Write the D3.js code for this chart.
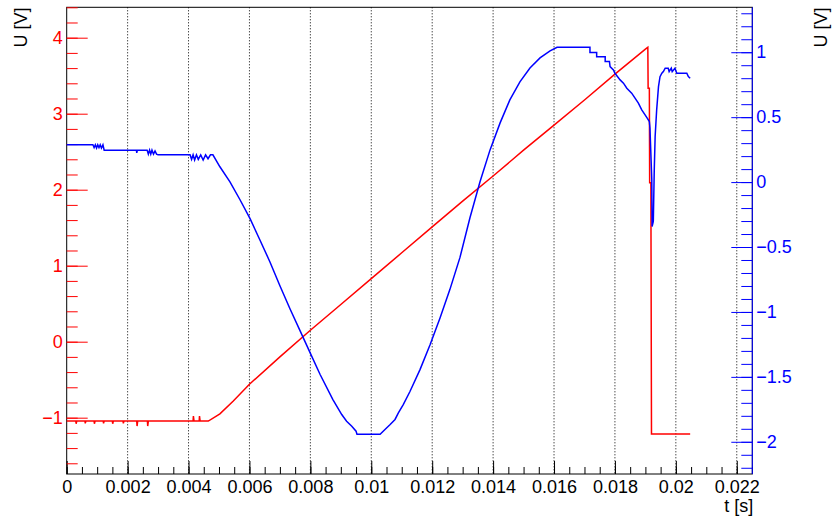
<!DOCTYPE html>
<html><head><meta charset="utf-8">
<script src="https://cdn.jsdelivr.net/npm/d3@7"></script>
<style>body{margin:0;background:#fff;} svg{display:block;font-family:"Liberation Sans",Arial,Helvetica,sans-serif;}</style>
</head><body><svg id="c" width="836" height="519"></svg>
<script>
// ---- data ----
const xTicks = [0,0.002,0.004,0.006,0.008,0.01,0.012,0.014,0.016,0.018,0.02,0.022];
const xTickLabels = ["0","0.002","0.004","0.006","0.008","0.01","0.012","0.014","0.016","0.018","0.02","0.022"];
const leftTicks = [-1,0,1,2,3,4];
const leftTickLabels = ["\u22121","0","1","2","3","4"];
const rightTicks = [-2,-1.5,-1,-0.5,0,0.5,1];
const rightTickLabels = ["\u22122","\u22121.5","\u22121","\u22120.5","0","0.5","1"];

// red trace (left axis, U [V])
const redT = [0,0.00030,0.00031,0.00033,0.00060,0.00061,0.00063,0.00090,0.00091,0.00093,0.00120,0.00121,0.00123,
  0.00150,0.00151,0.00153,0.00185,0.00186,0.00188,0.00230,0.00231,0.00233,0.00265,0.00266,0.00268,
  0.00415,0.00416,0.00418,0.00435,0.00436,0.00438,0.00465,
  0.00503,0.00547,0.0060,0.0070,0.0080,0.0090,0.0100,0.0110,0.0120,0.0130,0.0140,
  0.0150,0.0160,0.0170,0.0180,0.0190,0.01908,0.01909,0.01913,0.01914,0.01918,0.01920,0.02047];
const redV = [-1.045,-1.045,-1.08,-1.045,-1.045,-1.075,-1.045,-1.045,-1.08,-1.045,-1.045,-1.075,
  -1.045,-1.045,-1.08,-1.045,-1.045,-1.075,-1.045,-1.045,-1.11,-1.045,-1.045,-1.11,-1.045,
  -1.045,-0.98,-1.045,-1.045,-0.98,-1.045,-1.045,
  -0.95,-0.78,-0.56,-0.20,0.15,0.49,0.83,1.17,1.51,1.85,2.18,
  2.52,2.85,3.18,3.52,3.85,3.874,3.334,3.334,2.09,2.09,-1.214,-1.214];

// blue trace (right axis, U [V])
const blueT = [0,0.00086,0.00090,0.00094,0.00098,0.00102,0.00106,0.00110,0.00114,0.00119,0.00123,0.00229,0.00230,0.00232,
  0.00264,0.00268,0.00272,0.00276,0.00280,0.00285,0.00290,0.00295,0.00300,
  0.00405,0.00410,0.00415,0.00420,0.00426,0.00432,0.00440,0.00448,0.00456,0.00464,0.00472,0.00480,
  0.00503,0.00536,0.00569,0.00602,0.00634,0.00667,0.00700,0.00733,0.00766,0.00799,0.00832,0.00874,
  0.00903,0.00919,0.00936,0.00950,0.00953,0.01029,0.01045,0.01062,0.01078,0.01089,0.01105,0.01127,
  0.01160,0.01193,0.01226,0.01258,0.01291,0.01324,0.01357,0.01390,0.01423,0.01455,0.01488,0.01521,
  0.01554,0.01587,0.01610,0.01718,0.01718,0.01740,0.01740,0.01768,0.01768,0.01782,0.01784,0.01795,
  0.01800,0.01817,0.01828,0.01839,0.01855,0.01866,0.01877,0.01888,0.01899,0.01906,0.01913,0.01915,
  0.01921,0.01922,0.01926,0.01929,0.01932,0.01937,0.01943,0.01948,0.01954,0.01959,0.01965,
  0.01975,0.01978,0.01985,0.01988,0.01997,0.02003,0.02036,0.02041,0.02047];
const blueV = [0.287,0.287,0.265,0.287,0.262,0.287,0.265,0.287,0.262,0.287,0.246,0.246,0.225,0.246,
  0.246,0.215,0.246,0.215,0.246,0.215,0.240,0.215,0.210,
  0.210,0.175,0.210,0.170,0.210,0.175,0.210,0.170,0.210,0.180,0.210,0.210,
  0.118,0.002,-0.136,-0.282,-0.444,-0.613,-0.798,-0.975,-1.144,-1.313,-1.482,-1.675,
  -1.790,-1.842,-1.880,-1.918,-1.942,-1.942,-1.905,-1.867,-1.828,-1.777,-1.713,-1.613,
  -1.444,-1.252,-1.044,-0.828,-0.582,-0.275,0.002,0.248,0.456,0.633,0.772,0.879,
  0.956,1.010,1.038,1.038,0.997,0.997,0.966,0.966,0.928,0.928,0.889,0.864,
  0.838,0.787,0.762,0.723,0.685,0.646,0.608,0.556,0.518,0.492,0.466,0.415,
  0.018,-0.342,-0.303,0.082,0.351,0.556,0.735,0.812,0.838,0.851,0.877,
  0.877,0.850,0.877,0.850,0.877,0.838,0.838,0.812,0.800];

// ---- layout ----
const W = 836, H = 519;
const X0 = 66.7, X1 = 752.3, Y0 = 7.3, Y1 = 474;
const svg = d3.select("#c");
svg.append("rect").attr("width",W).attr("height",H).attr("fill","#fff");

const x = d3.scaleLinear().domain([0,0.02251]).range([X0,X1]);
const yL = d3.scaleLinear().domain([-1.741,4.40]).range([Y1,Y0]);
const yR = d3.scaleLinear().domain([-2.248,1.346]).range([Y1,Y0]);

// grid
svg.append("g").selectAll("line").data(xTicks.filter(d=>d>0)).join("line")
  .attr("x1",d=>x(d)).attr("x2",d=>x(d)).attr("y1",Y0).attr("y2",Y1)
  .attr("stroke","#000").attr("stroke-width",1).attr("stroke-dasharray","1,2");

// frame
svg.append("rect").attr("x",X0).attr("y",Y0).attr("width",X1-X0).attr("height",Y1-Y0)
  .attr("fill","none").attr("stroke","#000").attr("stroke-width",1);

const FS = 18;
function style(g, color){
  g.select(".domain").remove();
  g.selectAll("line").attr("stroke",color).attr("stroke-width",1);
  g.selectAll("text").attr("fill",color).attr("font-size",FS).attr("font-family","Liberation Sans, Arial, sans-serif");
}
// x axis
const xMinor = d3.range(0,0.02251,0.0005);
const gxm = svg.append("g").attr("transform",`translate(0,${Y1})`)
  .call(d3.axisBottom(x).tickValues(xMinor).tickSize(-7).tickFormat(""));
style(gxm,"#000");
const gx = svg.append("g").attr("transform",`translate(0,${Y1})`)
  .call(d3.axisBottom(x).tickValues(xTicks).tickSize(-13).tickPadding(6).tickFormat((d,i)=>xTickLabels[i]));
style(gx,"#000");

// left axis
const lMinor = d3.range(-1.6,4.41,0.2).map(v=>+v.toFixed(2));
const glm = svg.append("g").attr("transform",`translate(${X0},0)`)
  .call(d3.axisLeft(yL).tickValues(lMinor).tickSize(-11).tickFormat(""));
style(glm,"#ff0000");
const gl = svg.append("g").attr("transform",`translate(${X0},0)`)
  .call(d3.axisLeft(yL).tickValues(leftTicks).tickSize(-21).tickPadding(4).tickFormat((d,i)=>leftTickLabels[i]));
style(gl,"#ff0000");

// right axis
const rMinor = d3.range(-2.2,1.35,0.1).map(v=>+v.toFixed(2));
const grm = svg.append("g").attr("transform",`translate(${X1},0)`)
  .call(d3.axisRight(yR).tickValues(rMinor).tickSize(-11).tickFormat(""));
style(grm,"#0000ff");
const gr = svg.append("g").attr("transform",`translate(${X1},0)`)
  .call(d3.axisRight(yR).tickValues(rightTicks).tickSize(-21).tickPadding(4).tickFormat((d,i)=>rightTickLabels[i]));
style(gr,"#0000ff");
svg.append("line").attr("x1",X1).attr("x2",X1).attr("y1",Y0).attr("y2",Y1)
  .attr("stroke","#0000ff").attr("stroke-width",1);

// traces
const redData = redT.map((t,i)=>[t,redV[i]]);
const blueData = blueT.map((t,i)=>[t,blueV[i]]);
svg.append("path").datum(redData)
  .attr("d",d3.line().x(d=>x(d[0])).y(d=>yL(d[1])))
  .attr("fill","none").attr("stroke","#ff0000").attr("stroke-width",1.5);
svg.append("path").datum(blueData)
  .attr("d",d3.line().x(d=>x(d[0])).y(d=>yR(d[1])))
  .attr("fill","none").attr("stroke","#0000ff").attr("stroke-width",1.5);

// titles
svg.append("text").attr("x",X1+1).attr("y",512).attr("text-anchor","end")
  .attr("font-size",FS).attr("fill","#000").text("t [s]");
svg.append("text").attr("transform","translate(27,7.5) rotate(-90)").attr("text-anchor","end")
  .attr("font-size",FS).attr("fill","#000").text("U [V]");
svg.append("text").attr("transform","translate(827,7.5) rotate(-90)").attr("text-anchor","end")
  .attr("font-size",FS).attr("fill","#000").text("U [V]");
</script></body></html>
